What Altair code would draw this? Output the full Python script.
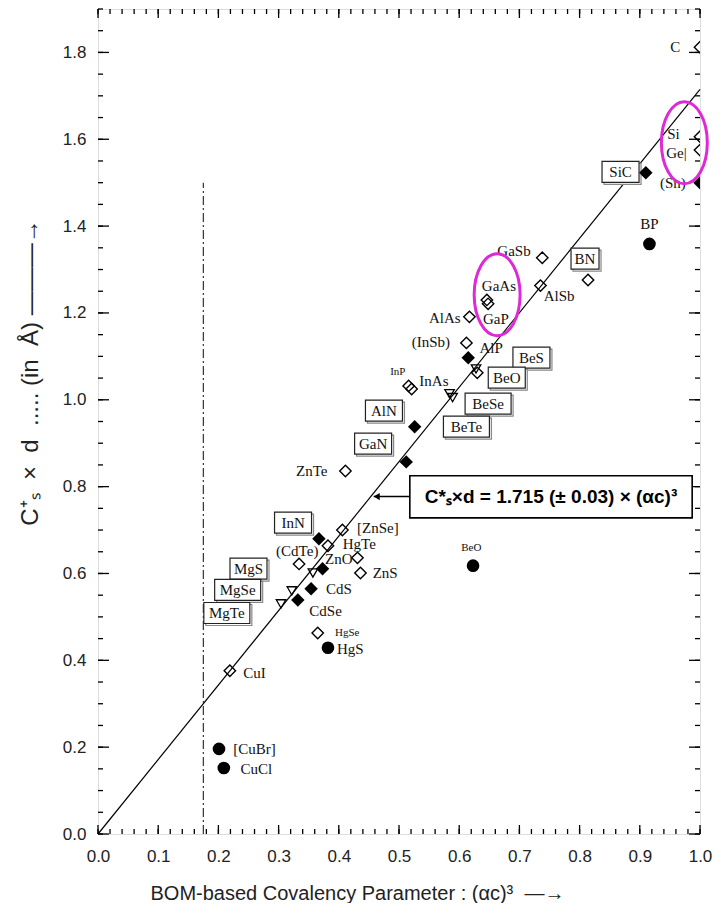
import altair as alt
import pandas as pd
import numpy as np

W, H = 602, 825
SANS = "Liberation Sans"
SERIF = "Liberation Serif"
NB = "\u00a0"

# ---------------- data ----------------
pt_name = ["C", "Si", "Ge", "Sn", "SiC", "BP", "BN", "GaSb", "AlSb", "GaAs", "GaP", "AlAs",
           "InSb", "AlP", "BeS", "BeO", "InP", "InAs", "BeSe", "BeTe", "AlN", "GaN", "ZnTe",
           "ZnSe", "InN", "HgTe", "CdTe", "ZnO", "ZnO_f", "MgS", "ZnS", "CdS", "MgSe", "CdSe",
           "MgTe", "HgSe", "HgS", "BeO_w", "CuI", "CuBr", "CuCl"]
pt_x = [1.0, 1.0, 1.0, 1.0, 0.910, 0.916, 0.814, 0.738, 0.735, 0.646, 0.648, 0.617,
        0.612, 0.615, 0.628, 0.630, 0.516, 0.521, 0.584, 0.589, 0.526, 0.512, 0.411,
        0.406, 0.367, 0.382, 0.334, 0.431, 0.373, 0.357, 0.436, 0.354, 0.322, 0.332,
        0.304, 0.365, 0.382, 0.623, 0.219, 0.201, 0.209]
pt_y = [1.812, 1.606, 1.575, 1.500, 1.523, 1.359, 1.276, 1.327, 1.263, 1.230, 1.221, 1.191,
        1.131, 1.097, 1.071, 1.062, 1.032, 1.025, 1.014, 1.005, 0.938, 0.857, 0.836,
        0.700, 0.680, 0.664, 0.622, 0.636, 0.611, 0.601, 0.601, 0.565, 0.560, 0.539,
        0.530, 0.463, 0.429, 0.618, 0.376, 0.196, 0.152]
pt_kind = ["od", "od", "od", "fd", "fd", "fc", "od", "od", "od", "od", "od", "od",
           "od", "fd", "ot", "od", "od", "od", "ot", "ot", "fd", "fd", "od",
           "od", "fd", "od", "od", "od", "fd", "ot", "od", "fd", "ot", "fd",
           "ot", "od", "fc", "fc", "od", "fc", "fc"]

lab_text = ["C", "Si", "Ge|", "(Sn)", "SiC", "BP", "BN", "GaSb", "AlSb", "GaAs", "GaP", "AlAs",
            "(InSb)", "AlP", "BeS", "BeO", "BeSe", "BeTe", "InP", "InAs", "AlN", "GaN", "ZnTe",
            "[ZnSe]", "InN", "HgTe", "(CdTe)", "ZnO", "ZnS", "CdS", "CdSe", "HgSe", "HgS",
            "MgS", "MgSe", "MgTe", "CuI", "[CuBr]", "CuCl", "BeO"]
lab_x = [0.959, 0.956, 0.961, 0.955, 0.868, 0.916, 0.809, 0.691, 0.766, 0.666, 0.661, 0.576,
         0.553, 0.653, 0.720, 0.679, 0.648, 0.612, 0.498, 0.558, 0.475, 0.457, 0.355,
         0.465, 0.324, 0.434, 0.331, 0.400, 0.477, 0.400, 0.378, 0.414, 0.419,
         0.250, 0.232, 0.214, 0.260, 0.260, 0.263, 0.620]
lab_y = [1.813, 1.611, 1.569, 1.500, 1.525, 1.405, 1.325, 1.343, 1.240, 1.263, 1.187, 1.189,
         1.134, 1.120, 1.097, 1.051, 0.991, 0.938, 1.065, 1.044, 0.975, 0.899, 0.836,
         0.705, 0.717, 0.668, 0.652, 0.634, 0.601, 0.565, 0.514, 0.463, 0.426,
         0.611, 0.562, 0.509, 0.371, 0.196, 0.150, 0.659]
lab_boxed = [0, 0, 0, 0, 1, 0, 1, 0, 0, 0, 0, 0,
             0, 0, 1, 1, 1, 1, 0, 0, 1, 1, 0,
             0, 1, 0, 0, 0, 0, 0, 0, 0, 0,
             1, 1, 1, 0, 0, 0, 0]
lab_small = [0, 0, 0, 0, 0, 0, 0, 0, 0, 0, 0, 0,
             0, 0, 0, 0, 0, 0, 1, 0, 0, 0, 0,
             0, 0, 0, 0, 0, 0, 0, 0, 1, 0,
             0, 0, 0, 0, 0, 0, 1]

fit_slope = 1.715
fit_x = [0.0, 1.0]
cut_x = [0.175]
cut_y = [0.0, 1.5]

ellipse_x = [0.663, 0.974]
ellipse_y = [1.242, 1.592]

eq_text = "C*ₛ×d = 1.715 (± 0.03) × (αc)³"
eq_box = dict(x=0.518, x2=0.987, y=0.728, y2=0.825)
eq_arrow = dict(x=0.458, x2=0.518, y=0.777)

x_label_vals = [0.0, 0.1, 0.2, 0.3, 0.4, 0.5, 0.6, 0.7, 0.8, 0.9, 1.0]
y_label_vals = [0.0, 0.2, 0.4, 0.6, 0.8, 1.0, 1.2, 1.4, 1.6, 1.8]
x_minor_vals = [round(v, 2) for v in np.arange(0, 1.0001, 0.02)]
y_minor_vals = [round(v, 2) for v in np.arange(0, 1.9001, 0.05)]

x_title = "BOM-based Covalency Parameter : (αc)³" + NB * 2 + "—→"
y_title = ("C⁺ₛ" + NB * 2 + "×" + NB * 2 + "d" + NB * 2 + "....." + NB + "(in" + NB * 2 + "Å)"
           + NB + "———→")

# ---------------- scales / axes ----------------
xs = alt.Scale(domain=[0, 1.0], nice=False, zero=False)
ys = alt.Scale(domain=[0, 1.9], nice=False, zero=False)
xaxis = alt.Axis(values=x_label_vals, format=".1f", ticks=False, domain=False, grid=False,
                 labelFont=SANS, labelFontSize=17, labelColor="#222", labelPadding=14,
                 labelFlush=False, labelOverlap=False,
                 title=x_title, titleFont=SANS, titleFontSize=20, titleFontWeight="normal",
                 titleColor="#222", titleAlign="left", titleX=52, titleY=65,
                 titleBaseline="alphabetic")
yaxis = alt.Axis(values=y_label_vals, format=".1f", ticks=False, domain=False, grid=False,
                 labelFont=SANS, labelFontSize=17, labelColor="#222", labelPadding=12,
                 labelFlush=False, labelOverlap=False,
                 title=y_title, titleFont=SANS, titleFontSize=24, titleFontWeight="normal",
                 titleColor="#222", titlePadding=20, titleY=363)
X = alt.X("x:Q", scale=xs, axis=xaxis)
Y = alt.Y("y:Q", scale=ys, axis=yaxis)

# ---------------- frames ----------------
pts = pd.DataFrame({"name": pt_name, "x": pt_x, "y": pt_y, "kind": pt_kind})
labs = pd.DataFrame({"text": lab_text, "x": lab_x, "y": lab_y,
                     "boxed": lab_boxed, "small": lab_small})
boxes = labs[labs.boxed == 1].copy()
half_w = (boxes.text.str.len() * 9.0 + 10) / 2.0
boxes["x0"] = boxes.x - half_w / W
boxes["x1"] = boxes.x + half_w / W
boxes["y0"] = boxes.y - 10.5 / (H / 1.9)
boxes["y1"] = boxes.y + 10.5 / (H / 1.9)
boxes = boxes[["x0", "x1", "y0", "y1"]].rename(columns={"x0": "x", "x1": "x2", "y0": "y", "y1": "y2"})

fit_df = pd.DataFrame({"x": fit_x, "y": [fit_slope * v for v in fit_x]})
cut_df = pd.DataFrame({"x": cut_x, "y": [cut_y[0]], "y2": [cut_y[1]]})
ell_df = pd.DataFrame({"x": ellipse_x, "y": ellipse_y})
eq_df = pd.DataFrame({"x": [eq_box["x"]], "x2": [eq_box["x2"]], "y": [eq_box["y"]], "y2": [eq_box["y2"]]})
eq_txt_df = pd.DataFrame({"x": [(eq_box["x"] + eq_box["x2"]) / 2], "y": [(eq_box["y"] + eq_box["y2"]) / 2],
                          "t": [eq_text]})
arr_df = pd.DataFrame({"x": [eq_arrow["x"]], "x2": [eq_arrow["x2"]], "y": [eq_arrow["y"]]})

layers = []

# ticks (inward, all four sides)
ymaj = pd.DataFrame({"y": y_label_vals})
ymin = pd.DataFrame({"y": y_minor_vals})
xmaj = pd.DataFrame({"x": x_label_vals})
xmin = pd.DataFrame({"x": x_minor_vals})
tk = dict(color="black", strokeWidth=1.3)
layers += [
    alt.Chart(ymaj).mark_rule(**tk).encode(y=Y, x=alt.value(0), x2=alt.value(11)),
    alt.Chart(ymin).mark_rule(**tk).encode(y=Y, x=alt.value(0), x2=alt.value(5)),
    alt.Chart(ymaj).mark_rule(**tk).encode(y=Y, x=alt.value(W), x2=alt.value(W - 11)),
    alt.Chart(ymin).mark_rule(**tk).encode(y=Y, x=alt.value(W), x2=alt.value(W - 5)),
    alt.Chart(xmaj).mark_rule(**tk).encode(x=X, y=alt.value(H), y2=alt.value(H - 9)),
    alt.Chart(xmin).mark_rule(**tk).encode(x=X, y=alt.value(H), y2=alt.value(H - 5)),
    alt.Chart(xmaj).mark_rule(**tk).encode(x=X, y=alt.value(0), y2=alt.value(9)),
    alt.Chart(xmin).mark_rule(**tk).encode(x=X, y=alt.value(0), y2=alt.value(5)),
]

# fit line and dash-dot cutoff
layers.append(alt.Chart(fit_df).mark_line(color="black", strokeWidth=1.2).encode(x=X, y=Y))
layers.append(alt.Chart(cut_df).mark_rule(color="#333", strokeWidth=1.2, strokeDash=[9, 3, 2, 3])
              .encode(x=X, y=Y, y2=alt.Y2("y2")))

# label boxes (shadow + box)
layers.append(alt.Chart(boxes).mark_rect(fill="white", stroke="#888", strokeWidth=1.2,
                                         xOffset=2, yOffset=2, x2Offset=2, y2Offset=2)
              .encode(x=X, x2=alt.X2("x2"), y=Y, y2=alt.Y2("y2")))
layers.append(alt.Chart(boxes).mark_rect(fill="white", stroke="#222", strokeWidth=1.2)
              .encode(x=X, x2=alt.X2("x2"), y=Y, y2=alt.Y2("y2")))

# markers
MK = {
    "od": dict(shape="diamond", filled=False, size=130, strokeWidth=1.4),
    "fd": dict(shape="diamond", filled=True, size=180),
    "fc": dict(shape="circle", filled=True, size=160),
    "ot": dict(shape="triangle-down", filled=False, size=90, strokeWidth=1.3),
}
for k, style in MK.items():
    layers.append(alt.Chart(pts[pts.kind == k]).mark_point(color="black", opacity=1, clip=True, **style)
                  .encode(x=X, y=Y))

# labels
layers.append(alt.Chart(labs[labs.small == 0]).mark_text(font=SERIF, fontSize=15, color="#111")
              .encode(x=X, y=Y, text="text:N"))
layers.append(alt.Chart(labs[labs.small == 1]).mark_text(font=SERIF, fontSize=11, color="#111")
              .encode(x=X, y=Y, text="text:N"))

# equation box with arrow
layers.append(alt.Chart(arr_df).mark_rule(color="black", strokeWidth=1.5)
              .encode(x=X, x2=alt.X2("x2"), y=Y))
layers.append(alt.Chart(arr_df).mark_point(shape="triangle-left", filled=True, color="black",
                                           size=50, opacity=1, xOffset=3).encode(x=X, y=Y))
layers.append(alt.Chart(eq_df).mark_rect(fill="white", stroke="black", strokeWidth=1.6)
              .encode(x=X, x2=alt.X2("x2"), y=Y, y2=alt.Y2("y2")))
layers.append(alt.Chart(eq_txt_df).mark_text(font=SANS, fontSize=19, fontWeight="bold", color="black")
              .encode(x=X, y=Y, text="t:N"))

# magenta ellipses
ELLIPSE = "M0,-1A0.56,1,0,1,1,0,1A0.56,1,0,1,1,0,-1Z"
layers.append(alt.Chart(ell_df).mark_point(shape=ELLIPSE, filled=False, color="#de2ad6",
                                           strokeWidth=3, size=6724, opacity=1)
              .encode(x=X, y=Y))

chart = alt.layer(*layers).properties(
    width=W, height=H,
    padding={"left": 10, "top": 0, "right": 0, "bottom": 0},
).configure_view(stroke="black", strokeWidth=1.5).configure(background="white")

chart.save("out.html", embed_options={"renderer": "svg", "actions": False})
